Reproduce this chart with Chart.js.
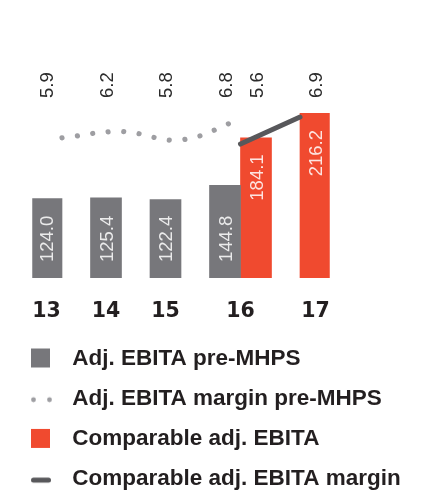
<!DOCTYPE html>
<html>
<head>
<meta charset="utf-8">
<script src="https://cdn.jsdelivr.net/npm/chart.js@4.4.1/dist/chart.umd.min.js"></script>
<style>
  body { margin: 0; background: #fff; }
</style>
</head>
<body>
<canvas id="ebita" width="440" height="494"></canvas>
<script>
// data
const years = ["13", "14", "15", "16", "17"];
const ebitaPre = [124.0, 125.4, 122.4, 144.8, null];
const marginPre = [5.9, 6.2, 5.8, 6.8, null];
const ebitaComp = [null, null, null, 184.1, 216.2];
const marginComp = [null, null, null, 5.6, 6.9];
const seriesNames = [
  "Adj. EBITA pre-MHPS",
  "Adj. EBITA margin pre-MHPS",
  "Comparable adj. EBITA",
  "Comparable adj. EBITA margin"
];

const GRAY = "#77777b";
const RED = "#f04a2f";
const DARK = "#58585b";
const DOT = "#9e9ea2";
const INK = "#231f20";
const SANS = "'Liberation Sans', Arial, sans-serif";

// small canvases used as legend markers
function icon(draw) {
  const c = document.createElement("canvas");
  c.width = 30;
  c.height = 22;
  draw(c.getContext("2d"));
  return c;
}
const legendIcons = [
  icon((g) => { g.fillStyle = GRAY; g.fillRect(0, 1, 19, 19); }),
  icon((g) => {
    g.fillStyle = DOT;
    [2.5, 18.5].forEach((x) => { g.beginPath(); g.arc(x, 12, 2.4, 0, Math.PI * 2); g.fill(); });
  }),
  icon((g) => { g.fillStyle = RED; g.fillRect(0, 1, 19, 19); }),
  icon((g) => {
    g.strokeStyle = DARK; g.lineWidth = 5; g.lineCap = "round";
    g.beginPath(); g.moveTo(2.5, 12); g.lineTo(17.5, 12); g.stroke();
  })
];

// vertical text, reading bottom to top, centred on x
function vertText(ctx, text, x, y, align, size) {
  ctx.save();
  ctx.translate(x + 0.358 * size, y);
  ctx.rotate(-Math.PI / 2);
  ctx.textAlign = align;
  ctx.fillText(text, 0, 0);
  ctx.restore();
}

const labelsPlugin = {
  id: "labelsPlugin",
  afterDatasetsDraw(chart) {
    const ctx = chart.ctx;
    const area = chart.chartArea;
    const gray = chart.getDatasetMeta(0).data;
    const red = chart.getDatasetMeta(2).data;
    ctx.save();
    ctx.textBaseline = "alphabetic";

    // values inside the bars
    ctx.font = "18.5px " + SANS;
    ctx.fillStyle = "rgba(255,255,255,0.85)";
    ebitaPre.forEach((v, i) => {
      if (v == null) return;
      vertText(ctx, v.toFixed(1), gray[i].x, gray[i].base - 16, "left", 18.5);
    });
    ebitaComp.forEach((v, i) => {
      if (v == null) return;
      vertText(ctx, v.toFixed(1), red[i].x, red[i].y + 16.5, "right", 18.5);
    });

    // margins above the plot
    ctx.fillStyle = "#2b2b2b";
    marginPre.forEach((v, i) => {
      if (v == null) return;
      vertText(ctx, v.toFixed(1), gray[i].x, area.top - 7, "left", 18.5);
    });
    marginComp.forEach((v, i) => {
      if (v == null) return;
      vertText(ctx, v.toFixed(1), red[i].x, area.top - 7, "left", 18.5);
    });

    // year labels under the bars
    ctx.font = "bold 20.5px 'DejaVu Sans', sans-serif";
    ctx.fillStyle = INK;
    ctx.textAlign = "center";
    years.forEach((yr, i) => {
      const xs = [];
      if (ebitaPre[i] != null) xs.push(gray[i].x);
      if (ebitaComp[i] != null) xs.push(red[i].x);
      const x = xs.reduce((a, b) => a + b, 0) / xs.length;
      ctx.fillText(yr, x, area.bottom + 38.7);
    });
    ctx.restore();
  }
};

const hiddenAxis = {
  grid: { display: false },
  border: { display: false },
  ticks: { display: false }
};

new Chart(document.getElementById("ebita"), {
  type: "bar",
  data: {
    labels: years,
    datasets: [
      {
        type: "bar",
        label: seriesNames[0],
        data: ebitaPre,
        backgroundColor: GRAY,
        yAxisID: "yGray",
        barThickness: 31,
        order: 1
      },
      {
        type: "line",
        label: seriesNames[1],
        data: marginPre,
        borderColor: DOT,
        borderWidth: 5.2,
        borderDash: [0.01, 15.5],
        borderCapStyle: "round",
        tension: 0.4,
        pointRadius: 0,
        yAxisID: "yPct",
        order: 0
      },
      {
        type: "bar",
        label: seriesNames[2],
        data: ebitaComp,
        backgroundColor: RED,
        yAxisID: "yRed",
        barThickness: 31,
        order: 1
      },
      {
        type: "line",
        label: seriesNames[3],
        data: marginComp,
        borderColor: DARK,
        borderWidth: 5,
        borderCapStyle: "round",
        pointRadius: 0,
        yAxisID: "yPct",
        order: 0
      }
    ]
  },
  options: {
    responsive: false,
    animation: false,
    layout: { padding: { top: 105, left: 13.3, right: 0, bottom: -6.35 } },
    plugins: {
      tooltip: { enabled: false },
      legend: {
        position: "bottom",
        align: "start",
        labels: {
          usePointStyle: true,
          pointStyleWidth: 30,
          padding: 17.7,
          color: INK,
          font: { family: SANS, size: 22.5, weight: "bold" },
          sort: (a, b) => a.datasetIndex - b.datasetIndex,
          generateLabels: (chart) => {
            const items = Chart.defaults.plugins.legend.labels.generateLabels(chart);
            items.forEach((it) => { it.pointStyle = legendIcons[it.datasetIndex]; });
            return items;
          }
        }
      }
    },
    scales: {
      x: {
        ...hiddenAxis,
        offset: true,
        afterFit: (s) => { s.height = 51.55; }
      },
      yGray: {
        ...hiddenAxis,
        position: "left",
        min: 0,
        max: 270.3,
        afterFit: (s) => { s.width = 18.95; }
      },
      yRed: {
        ...hiddenAxis,
        position: "right",
        min: 0,
        max: 227.3,
        afterFit: (s) => { s.width = 110.25; }
      },
      yPct: {
        display: false,
        min: -0.84,
        max: 7.477
      }
    }
  },
  plugins: [labelsPlugin]
});
</script>
</body>
</html>
